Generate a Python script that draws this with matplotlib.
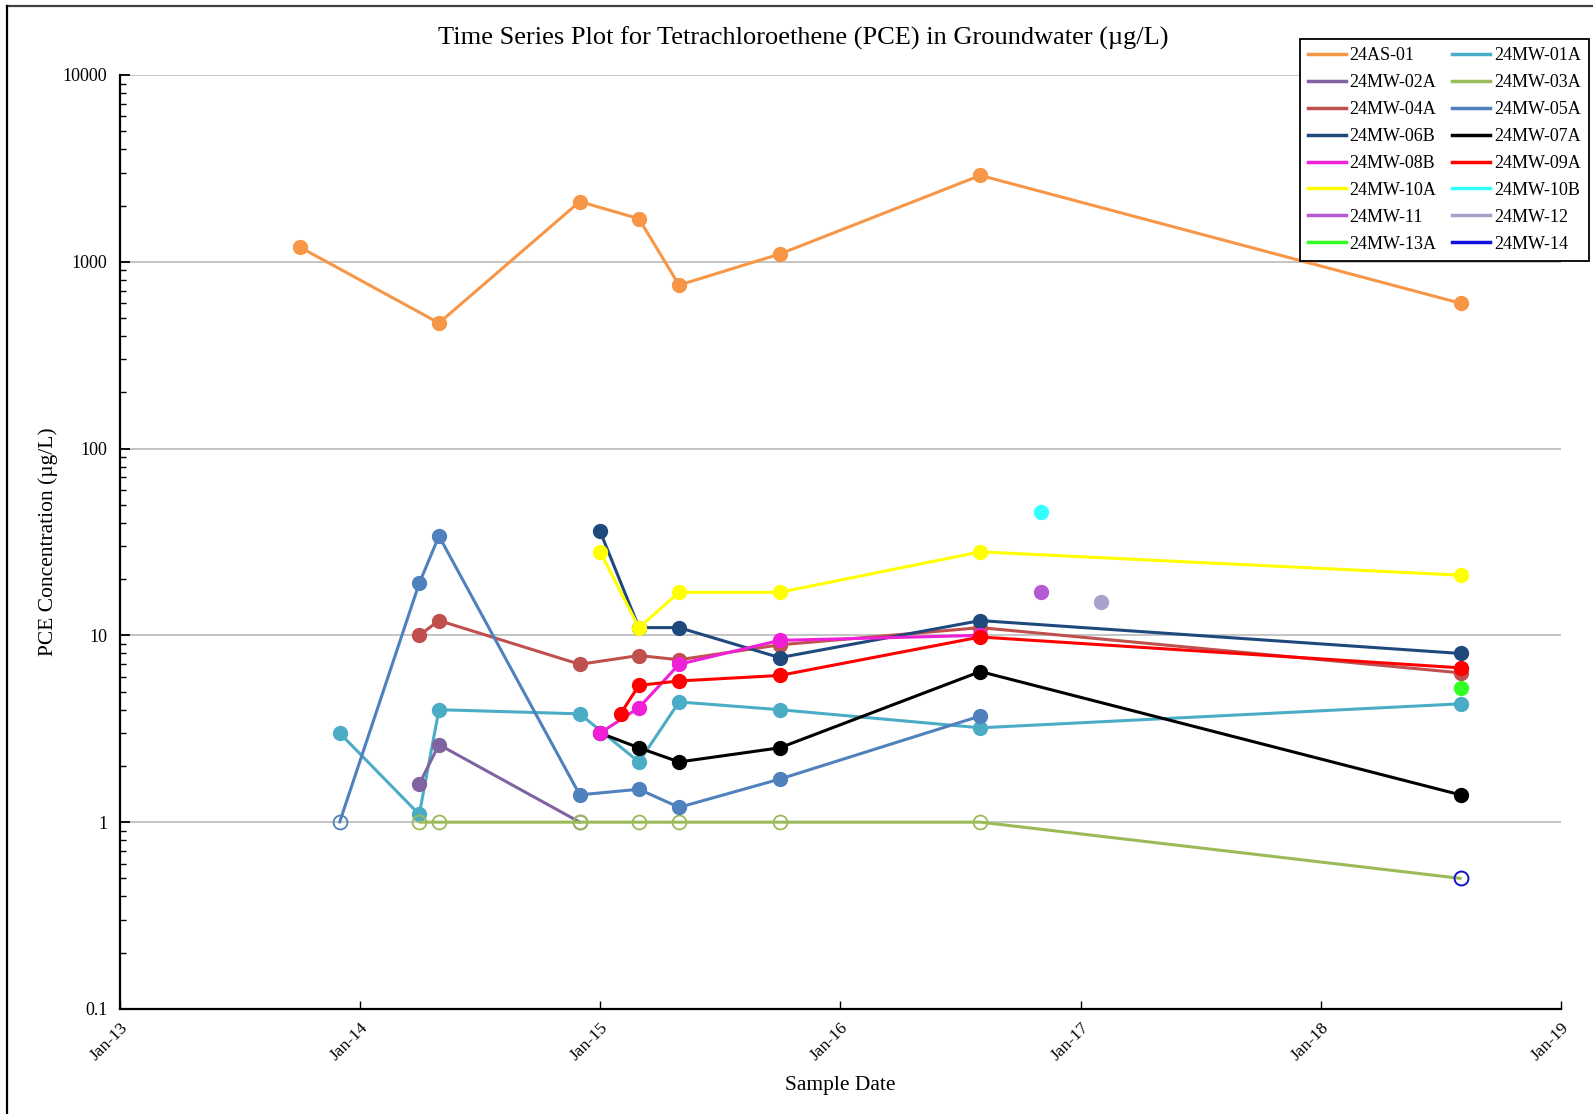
import datetime as dt
import matplotlib
matplotlib.use("Agg")
import matplotlib.pyplot as plt
import matplotlib.dates as mdates
from matplotlib.lines import Line2D
from matplotlib.ticker import LogLocator, FixedLocator, FuncFormatter, NullFormatter

plt.rcParams['font.family'] = ['Liberation Serif', 'DejaVu Serif']

# Sampling events (first of month)
ev = {
    'Oct13': '2013-10-01', 'Dec13': '2013-12-01', 'Apr14': '2014-04-01',
    'May14': '2014-05-01', 'Dec14': '2014-12-01', 'Jan15': '2015-01-01',
    'Feb15': '2015-02-01', 'Mar15': '2015-03-01', 'May15': '2015-05-01',
    'Oct15': '2015-10-01', 'Aug16': '2016-08-01', 'Nov16': '2016-11-01',
    'Feb17': '2017-02-01', 'Aug18': '2018-08-01',
}

wells = ['24AS-01', '24MW-01A', '24MW-02A', '24MW-03A', '24MW-04A', '24MW-05A',
         '24MW-06B', '24MW-07A', '24MW-08B', '24MW-09A', '24MW-10A', '24MW-10B',
         '24MW-11', '24MW-12', '24MW-13A', '24MW-14']

colors = ['#F79646', '#4BACC6', '#8064A2', '#9BBB59', '#C0504D', '#4F81BD',
          '#1F497D', '#000000', '#F020D8', '#FF0000', '#FFFF00', '#33FFFF',
          '#B65AD4', '#AAA0CC', '#33FF22', '#1010E0']

# PCE results per well: sample events, concentrations (ug/L), detected flag
as01_dates = ['Oct13', 'May14', 'Dec14', 'Mar15', 'May15', 'Oct15', 'Aug16', 'Aug18']
as01_vals = [1200, 470, 2100, 1700, 750, 1100, 2900, 600]
as01_det = [1, 1, 1, 1, 1, 1, 1, 1]

mw01a_dates = ['Dec13', 'Apr14', 'May14', 'Dec14', 'Mar15', 'May15', 'Oct15', 'Aug16', 'Aug18']
mw01a_vals = [3.0, 1.1, 4.0, 3.8, 2.1, 4.4, 4.0, 3.2, 4.3]
mw01a_det = [1, 1, 1, 1, 1, 1, 1, 1, 1]

mw02a_dates = ['Apr14', 'May14', 'Dec14']
mw02a_vals = [1.6, 2.6, 1.0]
mw02a_det = [1, 1, 0]

mw03a_dates = ['Apr14', 'May14', 'Dec14', 'Mar15', 'May15', 'Oct15', 'Aug16', 'Aug18']
mw03a_vals = [1.0, 1.0, 1.0, 1.0, 1.0, 1.0, 1.0, 0.5]
mw03a_det = [0, 0, 0, 0, 0, 0, 0, 0]

mw04a_dates = ['Apr14', 'May14', 'Dec14', 'Mar15', 'May15', 'Oct15', 'Aug16', 'Aug18']
mw04a_vals = [10, 12, 7.0, 7.8, 7.4, 8.9, 11, 6.3]
mw04a_det = [1, 1, 1, 1, 1, 1, 1, 1]

mw05a_dates = ['Dec13', 'Apr14', 'May14', 'Dec14', 'Mar15', 'May15', 'Oct15', 'Aug16']
mw05a_vals = [1.0, 19, 34, 1.4, 1.5, 1.2, 1.7, 3.7]
mw05a_det = [0, 1, 1, 1, 1, 1, 1, 1]

mw06b_dates = ['Jan15', 'Mar15', 'May15', 'Oct15', 'Aug16', 'Aug18']
mw06b_vals = [36, 11, 11, 7.6, 12, 8.0]
mw06b_det = [1, 1, 1, 1, 1, 1]

mw07a_dates = ['Jan15', 'Mar15', 'May15', 'Oct15', 'Aug16', 'Aug18']
mw07a_vals = [3.0, 2.5, 2.1, 2.5, 6.4, 1.4]
mw07a_det = [1, 1, 1, 1, 1, 1]

mw08b_dates = ['Jan15', 'Mar15', 'May15', 'Oct15', 'Aug16']
mw08b_vals = [3.0, 4.1, 7.0, 9.4, 10]
mw08b_det = [1, 1, 1, 1, 1]

mw09a_dates = ['Feb15', 'Mar15', 'May15', 'Oct15', 'Aug16', 'Aug18']
mw09a_vals = [3.8, 5.4, 5.7, 6.1, 9.8, 6.7]
mw09a_det = [1, 1, 1, 1, 1, 1]

mw10a_dates = ['Jan15', 'Mar15', 'May15', 'Oct15', 'Aug16', 'Aug18']
mw10a_vals = [28, 11, 17, 17, 28, 21]
mw10a_det = [1, 1, 1, 1, 1, 1]

mw10b_dates = ['Nov16']
mw10b_vals = [46]
mw10b_det = [1]

mw11_dates = ['Nov16']
mw11_vals = [17]
mw11_det = [1]

mw12_dates = ['Feb17']
mw12_vals = [15]
mw12_det = [1]

mw13a_dates = ['Aug18']
mw13a_vals = [5.2]
mw13a_det = [1]

mw14_dates = ['Aug18']
mw14_vals = [0.5]
mw14_det = [0]

series = [
    (as01_dates, as01_vals, as01_det), (mw01a_dates, mw01a_vals, mw01a_det),
    (mw02a_dates, mw02a_vals, mw02a_det), (mw03a_dates, mw03a_vals, mw03a_det),
    (mw04a_dates, mw04a_vals, mw04a_det), (mw05a_dates, mw05a_vals, mw05a_det),
    (mw06b_dates, mw06b_vals, mw06b_det), (mw07a_dates, mw07a_vals, mw07a_det),
    (mw08b_dates, mw08b_vals, mw08b_det), (mw09a_dates, mw09a_vals, mw09a_det),
    (mw10a_dates, mw10a_vals, mw10a_det), (mw10b_dates, mw10b_vals, mw10b_det),
    (mw11_dates, mw11_vals, mw11_det), (mw12_dates, mw12_vals, mw12_det),
    (mw13a_dates, mw13a_vals, mw13a_det), (mw14_dates, mw14_vals, mw14_det),
]

y_ticks = [0.1, 1, 10, 100, 1000, 10000]
x_years = [2013, 2014, 2015, 2016, 2017, 2018, 2019]


def to_date(key):
    return dt.datetime.strptime(ev[key], '%Y-%m-%d')


fig = plt.figure(figsize=(15.93, 11.14), dpi=100)
ax = fig.add_axes([0.0753, 0.0943, 0.9047, 0.8384])

LW = 2.2
MS = 10
handles = []
for i, (name, color, (dk, vals, det)) in enumerate(zip(wells, colors, series)):
    xs = [to_date(k) for k in dk]
    z = 3 + i
    if len(xs) > 1:
        ax.plot(xs, vals, color=color, lw=LW, zorder=z, solid_capstyle='round')
    xd = [x for x, d in zip(xs, det) if d]
    yd = [v for v, d in zip(vals, det) if d]
    xn = [x for x, d in zip(xs, det) if not d]
    yn = [v for v, d in zip(vals, det) if not d]
    if xd:
        ax.plot(xd, yd, ls='none', marker='o', ms=MS, mfc=color, mec=color, zorder=z)
    if xn:
        ax.plot(xn, yn, ls='none', marker='o', ms=MS, mfc='none', mec=color,
                mew=1.3, zorder=z)
    handles.append(Line2D([], [], color=color, lw=2.5, label=name))

ax.set_yscale('log')
ax.set_ylim(0.1, 10000)
ax.set_xlim(dt.datetime(x_years[0], 1, 1), dt.datetime(x_years[-1], 1, 1))

ax.yaxis.set_major_locator(FixedLocator(y_ticks))
ax.yaxis.set_major_formatter(FuncFormatter(lambda v, p: f'{v:g}'))
ax.yaxis.set_minor_locator(LogLocator(base=10, subs=range(2, 10)))
ax.yaxis.set_minor_formatter(NullFormatter())

ax.xaxis.set_major_locator(FixedLocator([mdates.date2num(dt.datetime(y, 1, 1)) for y in x_years]))
ax.xaxis.set_major_formatter(mdates.DateFormatter('%b-%y'))

ax.grid(axis='y', which='major', color='#BFBFBF', lw=1.3, zorder=0)
ax.set_axisbelow(True)
for s in ['top', 'right']:
    ax.spines[s].set_visible(False)
for s in ['left', 'bottom']:
    ax.spines[s].set_linewidth(1.6)
    ax.spines[s].set_color('black')

ax.tick_params(axis='y', which='major', direction='in', length=7, width=1.3,
               labelsize=13, pad=9)
ax.tick_params(axis='y', which='minor', direction='in', length=4, width=1.0)
ax.tick_params(axis='x', which='major', direction='in', length=6, width=1.0,
               labelsize=12.5, pad=8)
for lbl in ax.get_xticklabels():
    lbl.set_rotation(45)
    lbl.set_ha('right')
    lbl.set_va('top')
    lbl.set_rotation_mode('anchor')

ax.set_xlabel('Sample Date', fontsize=15.5)
ax.set_ylabel('PCE Concentration (\u00b5g/L)', fontsize=15.5)
ax.xaxis.set_label_coords(0.5, -0.072)
ax.yaxis.set_label_coords(-0.043, 0.5)

fig.text(803 / 1593, 1 - 38 / 1114,
         'Time Series Plot for Tetrachloroethene (PCE) in Groundwater (\u00b5g/L)',
         ha='center', va='center', fontsize=19)

# legend fills row by row: reorder handles for column-major layout
leg_handles = handles[0::2] + handles[1::2]
leg = fig.legend(handles=leg_handles, ncol=2, loc='upper right',
                 bbox_to_anchor=(1589 / 1593, 1 - 39 / 1114), fontsize=13,
                 frameon=True, fancybox=False, edgecolor='black', framealpha=1,
                 handlelength=2.1, handletextpad=0.2, columnspacing=0.9,
                 labelspacing=0.55, borderpad=0.45, borderaxespad=0)
leg.get_frame().set_linewidth(1.3)

# page frame lines on the top and left edges
fig.add_artist(Line2D([7 / 1593, 1], [1 - 6 / 1114, 1 - 6 / 1114],
                      transform=fig.transFigure, color='#404040', lw=1.6))
fig.add_artist(Line2D([7 / 1593, 7 / 1593], [0, 1 - 6 / 1114],
                      transform=fig.transFigure, color='black', lw=1.6))

fig.savefig('out.png', dpi=100)
